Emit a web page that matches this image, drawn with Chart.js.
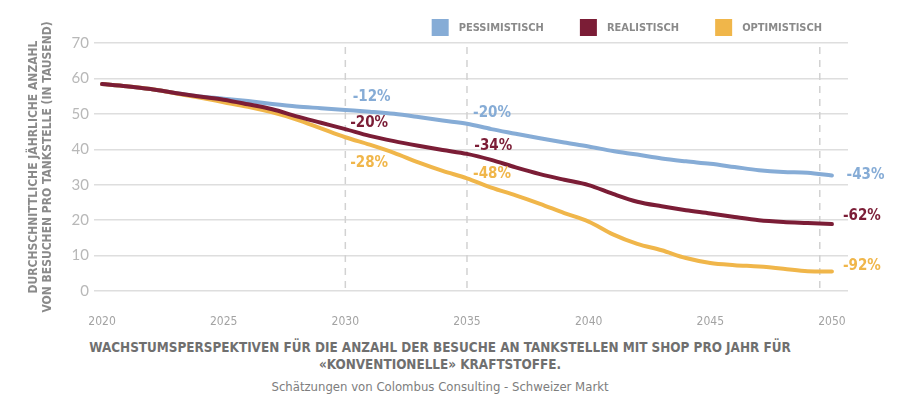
<!DOCTYPE html>
<html>
<head>
<meta charset="utf-8">
<script src="https://cdn.jsdelivr.net/npm/chart.js@4.4.1/dist/chart.umd.min.js"></script>
<style>
  body { margin: 0; background: #fff; }
  #wrap { position: relative; width: 900px; height: 405px; overflow: hidden; }
  #chartBox { position: absolute; left: 0; top: 0; width: 900px; height: 330px; }
  .cap { position: absolute; left: 0; width: 880px; text-align: center; font-family: 'Liberation Sans Narrow', 'DejaVu Sans Condensed', sans-serif; }
  #title { top: 339px; font-size: 13.4px; font-weight: bold; line-height: 17px; color: #6f6f6f; }
  #source { top: 379px; font-size: 13px; color: #7d7d7d; }
</style>
</head>
<body>
<div id="wrap">
  <div id="chartBox"><canvas id="chart"></canvas></div>
  <div id="title" class="cap">WACHSTUMSPERSPEKTIVEN FÜR DIE ANZAHL DER BESUCHE AN TANKSTELLEN MIT SHOP PRO JAHR FÜR<br>«KONVENTIONELLE» KRAFTSTOFFE.</div>
  <div id="source" class="cap">Schätzungen von Colombus Consulting - Schweizer Markt</div>
</div>
<script>
// values (thousand visits per station per year)
const years = [2020, 2021, 2022, 2023, 2024, 2025, 2026, 2027, 2028, 2029, 2030,
  2031, 2032, 2033, 2034, 2035, 2036, 2037, 2038, 2039, 2040,
  2041, 2042, 2043, 2044, 2045, 2046, 2047, 2048, 2049, 2050];
const pessimistisch = [58.4, 57.8, 57.0, 55.9, 54.9, 54.3, 53.6, 52.8, 52.1, 51.6, 51.1,
  50.6, 50.0, 49.1, 48.1, 47.2, 45.7, 44.4, 43.1, 41.9, 40.8,
  39.5, 38.5, 37.4, 36.6, 35.9, 35.0, 34.1, 33.6, 33.4, 32.6];
const realistisch = [58.4, 57.8, 57.0, 55.9, 54.9, 54.0, 52.7, 51.3, 49.3, 47.5, 45.7,
  43.8, 42.3, 41.0, 39.8, 38.7, 37.0, 34.9, 33.0, 31.4, 29.9,
  27.4, 25.2, 23.9, 22.8, 21.9, 20.9, 20.0, 19.5, 19.2, 18.9];
const optimistisch = [58.4, 57.8, 57.0, 55.8, 54.6, 53.3, 52.0, 50.4, 48.4, 45.9, 43.4,
  41.3, 39.0, 36.3, 33.9, 31.8, 29.2, 27.0, 24.6, 22.0, 19.6,
  16.0, 13.3, 11.5, 9.3, 7.9, 7.3, 6.9, 6.3, 5.6, 5.5];

const seriesNames = ['PESSIMISTISCH', 'REALISTISCH', 'OPTIMISTISCH'];
const xTicks = [2020, 2025, 2030, 2035, 2040, 2045, 2050];
const dashYears = [2030, 2035, 2049.5];

// percentage notes: text, series index, anchor in data units
const noteText = ['-12%', '-20%', '-28%', '-20%', '-34%', '-48%', '-43%', '-62%', '-92%'];
const noteSeries = [0, 1, 2, 0, 1, 2, 0, 1, 2];
const noteYear = [2030.3, 2030.2, 2030.2, 2035.25, 2035.3, 2035.25, 2050.6, 2050.45, 2050.45];
const noteValue = [54.8, 47.5, 36.2, 50.3, 41.0, 33.0, 32.8, 21.2, 7.1];

const colors = ['#86acd6', '#7b1d36', '#f0b64a'];
const narrow = "'Liberation Sans Narrow', 'DejaVu Sans Condensed', sans-serif";

const toPoints = (arr) => years.map((y, i) => ({ x: y, y: arr[i] }));

const dashPlugin = {
  id: 'dashLines',
  beforeDatasetsDraw(chart) {
    const { ctx, chartArea, scales } = chart;
    ctx.save();
    ctx.strokeStyle = '#d2d2d2';
    ctx.lineWidth = 1.5;
    ctx.setLineDash([7, 6]);
    dashYears.forEach((yr) => {
      const x = scales.x.getPixelForValue(yr);
      ctx.beginPath();
      ctx.moveTo(x, chartArea.top + 4);
      ctx.lineTo(x, chartArea.bottom);
      ctx.stroke();
    });
    ctx.restore();
  }
};

const notesPlugin = {
  id: 'notes',
  afterDatasetsDraw(chart) {
    const { ctx, scales } = chart;
    ctx.save();
    ctx.font = 'bold 15px ' + narrow;
    ctx.textAlign = 'left';
    ctx.textBaseline = 'middle';
    noteText.forEach((t, i) => {
      ctx.fillStyle = chart.data.datasets[noteSeries[i]].borderColor;
      ctx.fillText(t, scales.x.getPixelForValue(noteYear[i]), scales.y.getPixelForValue(noteValue[i]));
    });
    ctx.restore();
  }
};

// legend drawn at the top right, boxes + labels
const legendPlugin = {
  id: 'topLegend',
  afterDraw(chart) {
    const { ctx, chartArea } = chart;
    const ds = chart.data.datasets;
    ctx.save();
    ctx.font = 'bold 11px ' + narrow;
    ctx.textBaseline = 'middle';
    ctx.textAlign = 'left';
    let x = chartArea.right - 26;
    for (let i = ds.length - 1; i >= 0; i--) {
      const w = ctx.measureText(ds[i].label).width;
      const tx = x - w;
      const bx = tx - 10 - 17;
      ctx.fillStyle = ds[i].borderColor;
      ctx.fillRect(bx, 19, 17, 17);
      ctx.fillStyle = '#8a8a8a';
      ctx.fillText(ds[i].label, tx, 28);
      x = bx - 36;
    }
    ctx.restore();
  }
};

new Chart(document.getElementById('chart'), {
  type: 'line',
  data: {
    datasets: [
      { label: seriesNames[0], data: toPoints(pessimistisch), borderColor: colors[0], backgroundColor: colors[0], order: 2 },
      { label: seriesNames[1], data: toPoints(realistisch), borderColor: colors[1], backgroundColor: colors[1], order: 0 },
      { label: seriesNames[2], data: toPoints(optimistisch), borderColor: colors[2], backgroundColor: colors[2], order: 1 },
    ],
  },
  options: {
    responsive: true,
    maintainAspectRatio: false,
    animation: false,
    layout: { padding: { top: 43, right: 52, left: 0, bottom: 0 } },
    elements: {
      line: { borderWidth: 4, tension: 0.4, cubicInterpolationMode: 'monotone', borderCapStyle: 'round' },
      point: { radius: 0, hoverRadius: 0 },
    },
    plugins: {
      legend: { display: false },
      tooltip: { enabled: false },
    },
    scales: {
      x: {
        type: 'linear',
        min: 2019.67,
        max: 2050.66,
        afterBuildTicks: (scale) => { scale.ticks = xTicks.map((v) => ({ value: v })); },
        afterFit: (scale) => { scale.height = 39; },
        grid: { display: false },
        border: { display: false },
        ticks: {
          padding: 16,
          maxRotation: 0,
          autoSkip: false,
          color: '#a3a3a3',
          font: { family: narrow, size: 12 },
          callback: (v) => String(v),
        },
      },
      y: {
        min: 0,
        max: 70,
        afterFit: (scale) => { scale.width = 94; },
        grid: { color: '#dedede', lineWidth: 1.5, drawTicks: false },
        border: { display: false },
        ticks: {
          stepSize: 10,
          padding: 5,
          color: '#b8b8b8',
          font: { family: 'Lato', size: 15 },
        },
        title: {
          display: true,
          text: ['DURCHSCHNITTLICHE JÄHRLICHE ANZAHL', 'VON BESUCHEN PRO TANKSTELLE (IN TAUSEND)'],
          color: '#8a8a8a',
          font: { family: narrow, size: 12, weight: 'bold', lineHeight: 1.17 },
          padding: { top: 27, bottom: 0 },
        },
      },
    },
  },
  plugins: [dashPlugin, notesPlugin, legendPlugin],
});
</script>
</body>
</html>
